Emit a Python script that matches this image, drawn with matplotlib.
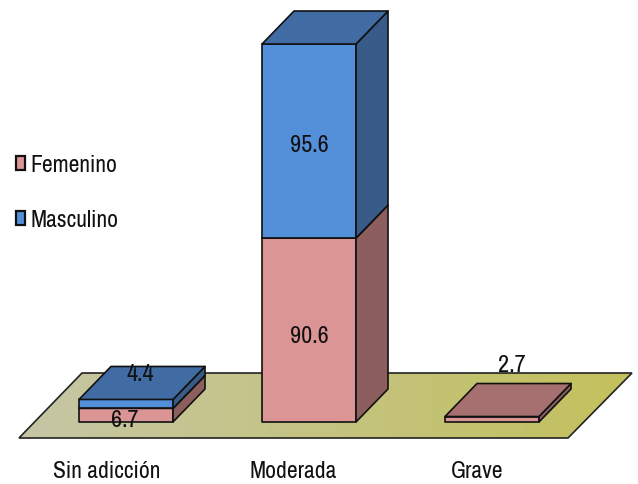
import matplotlib
matplotlib.use("Agg")
import matplotlib.pyplot as plt
import numpy as np
from matplotlib.patches import Polygon, Rectangle

# Datos
categorias = ["Sin adicción", "Moderada", "Grave"]
femenino = [6.7, 90.6, 2.7]
masculino = [4.4, 95.6, 0]
series = ["Femenino", "Masculino"]

# Colores: frente, tapa, lado
col_fem = ("#dc9595", "#a5706f", "#8c5f5e")
col_mas = ("#5390d9", "#416ca3", "#385b88")
col_borde = "#111111"
col_texto = "#111111"

# Geometria en pixeles de la imagen
x_izq = [79, 262, 445]
ancho = 94
dx, dy = 32, 33
base = 422
px_por_unidad = 2.03

plt.rcParams["font.family"] = ["Archivo Narrow", "Liberation Sans", "DejaVu Sans"]

fig = plt.figure(figsize=(6.38, 4.84), dpi=100)
ax = fig.add_axes([0, 0, 1, 1])

# Piso con degradado
piso = Polygon([(19, 438), (82, 373), (632, 373), (568, 438)], closed=True,
               fc="none", ec="#222222", lw=1.2, zorder=2)
ax.add_patch(piso)
grad = np.linspace(0, 1, 256).reshape(1, -1, 1)
c1 = np.array([198, 198, 166]) / 255
c2 = np.array([195, 193, 92]) / 255
img = ax.imshow(c1 + (c2 - c1) * grad, extent=(19, 632, 438, 373), aspect="auto", zorder=1)
img.set_clip_path(piso)
ax.set_xlim(0, 638)
ax.set_ylim(484, 0)
ax.axis("off")


def caja(x, y0, y1, colores, z):
    frente, tapa, lado = colores
    kw = dict(ec=col_borde, lw=1.2, joinstyle="round", zorder=z)
    ax.add_patch(Rectangle((x, y1), ancho, y0 - y1, fc=frente, **kw))
    ax.add_patch(Polygon([(x + ancho, y0), (x + ancho, y1), (x + ancho + dx, y1 - dy),
                          (x + ancho + dx, y0 - dy)], closed=True, fc=lado, **kw))
    ax.add_patch(Polygon([(x, y1), (x + ancho, y1), (x + ancho + dx, y1 - dy),
                          (x + dx, y1 - dy)], closed=True, fc=tapa, **kw))


# Barras apiladas
for i, x in enumerate(x_izq):
    y_fem = base - femenino[i] * px_por_unidad
    caja(x, base, y_fem, col_fem, 3 + i)
    if masculino[i] > 0:
        y_mas = y_fem - masculino[i] * px_por_unidad
        caja(x, y_fem, y_mas, col_mas, 3.5 + i)

# Etiquetas de valores (x, linea base)
pos_fem = [(125, 427), (309, 343), (512, 372)]
pos_mas = [(140, 381), (309, 152), None]
for i in range(3):
    ax.text(*pos_fem[i], str(femenino[i]), ha="center", va="baseline", fontsize=17.5, color=col_texto, zorder=10)
    if pos_mas[i]:
        ax.text(*pos_mas[i], str(masculino[i]), ha="center", va="baseline", fontsize=17.5, color=col_texto, zorder=10)

# Categorias
for x, c in zip([107, 293, 477], categorias):
    ax.text(x, 478, c, ha="center", va="baseline", fontsize=17, color=col_texto)

# Leyenda
for y, s, col in zip([172, 227], series, [col_fem[0], col_mas[0]]):
    ax.add_patch(Rectangle((16, y - 16), 9, 14, fc=col, ec="#111111", lw=1.6, zorder=5))
    ax.text(30, y, s, ha="left", va="baseline", fontsize=17, color=col_texto)

fig.savefig("out.png", dpi=100)
